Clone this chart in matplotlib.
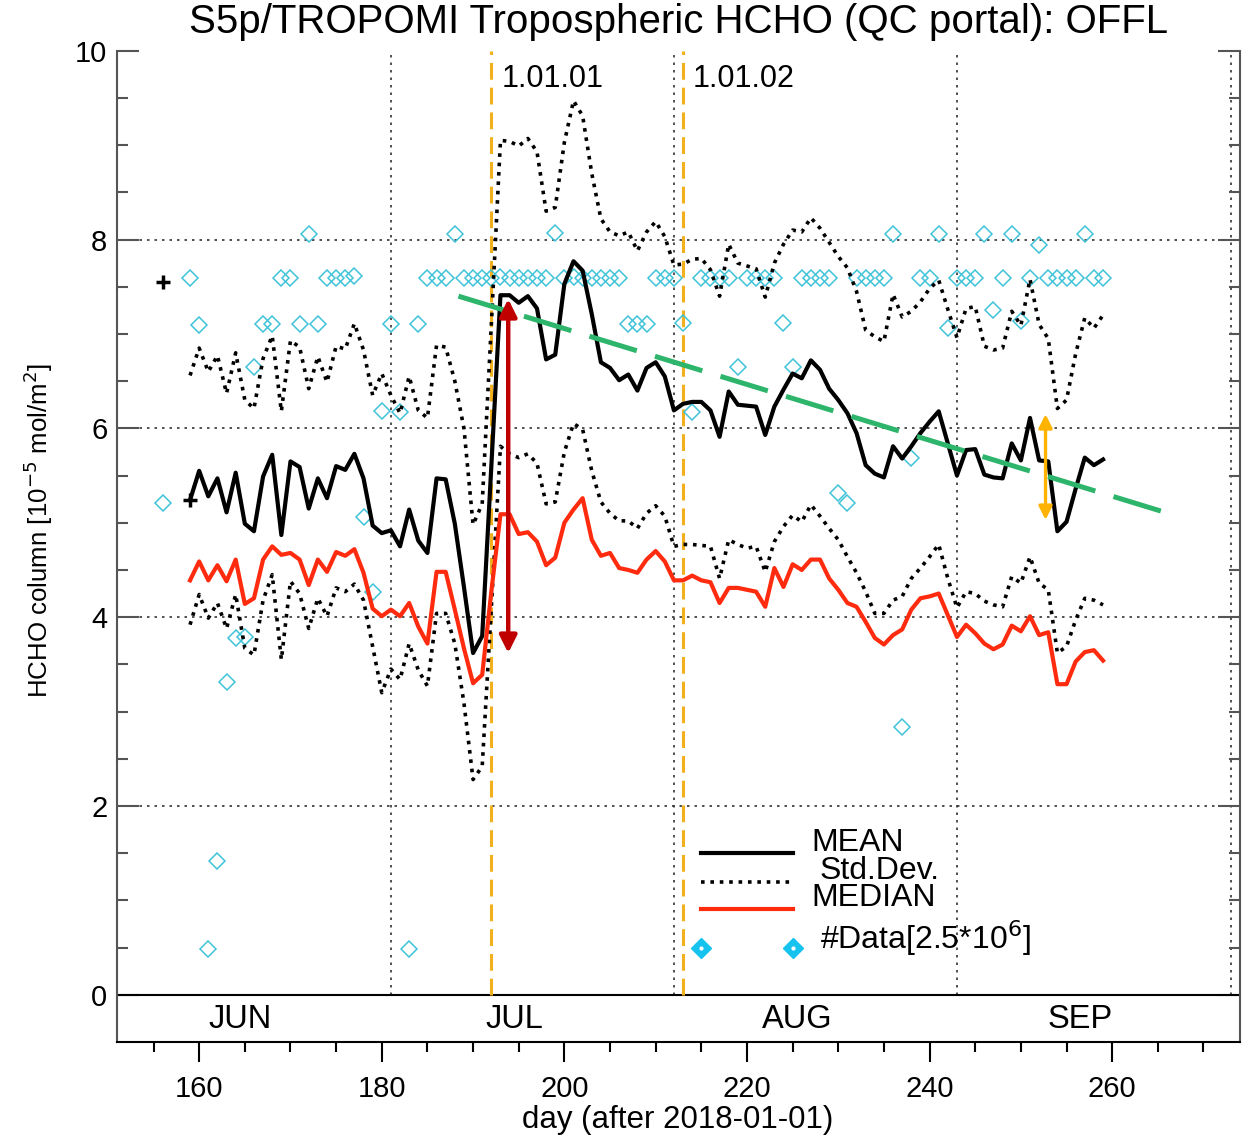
#!/usr/bin/env python3
"""
S5p/TROPOMI tropospheric HCHO time series (QC portal, OFFL)
daily mean / median / +-std.dev and number of data
"""

import numpy as np
import matplotlib.pyplot as plt
from matplotlib.ticker import FixedLocator

plt.rcParams['font.family'] = ['Liberation Sans', 'DejaVu Sans']

# ---- data ----
days = list(range(159, 260))

mean_vals = [
    5.24, 5.55, 5.28, 5.47, 5.11, 5.53, 4.99, 4.91, 5.49, 5.72,   # 159-168
    4.87, 5.65, 5.59, 5.15, 5.47, 5.26, 5.60, 5.56, 5.73, 5.47,   # 169-178
    4.97, 4.89, 4.92, 4.75, 5.14, 4.81, 4.68, 5.47, 5.46, 4.99,   # 179-188
    4.32, 3.62, 3.80, 5.60, 7.41, 7.41, 7.33, 7.40, 7.27, 6.73,   # 189-198
    6.78, 7.53, 7.77, 7.67, 7.21, 6.70, 6.64, 6.51, 6.57, 6.40,   # 199-208
    6.64, 6.70, 6.55, 6.19, 6.26, 6.28, 6.28, 6.19, 5.91, 6.39,   # 209-218
    6.25, 6.24, 6.23, 5.93, 6.23, 6.41, 6.58, 6.53, 6.72, 6.62,   # 219-228
    6.42, 6.30, 6.16, 5.95, 5.61, 5.52, 5.48, 5.81, 5.68, 5.81,   # 229-238
    5.95, 6.07, 6.18, 5.84, 5.50, 5.77, 5.78, 5.51, 5.48, 5.47,   # 239-248
    5.84, 5.66, 6.11, 5.66, 5.65, 4.91, 5.01, 5.36, 5.69, 5.61,   # 249-258
    5.67]                                                         # 259

median_vals = [
    4.39, 4.59, 4.39, 4.55, 4.38, 4.61, 4.14, 4.20, 4.61, 4.75,
    4.66, 4.68, 4.61, 4.34, 4.61, 4.48, 4.69, 4.65, 4.72, 4.47,
    4.09, 4.01, 4.08, 4.01, 4.15, 3.90, 3.72, 4.48, 4.48, 4.08,
    3.67, 3.30, 3.39, 4.27, 5.09, 5.09, 4.88, 4.90, 4.80, 4.55,
    4.63, 5.00, 5.14, 5.26, 4.82, 4.65, 4.68, 4.52, 4.50, 4.47,
    4.61, 4.70, 4.59, 4.39, 4.39, 4.44, 4.39, 4.37, 4.15, 4.31,
    4.31, 4.29, 4.27, 4.11, 4.52, 4.32, 4.56, 4.50, 4.61, 4.61,
    4.41, 4.29, 4.15, 4.11, 3.95, 3.78, 3.71, 3.81, 3.87, 4.08,
    4.20, 4.22, 4.25, 4.02, 3.79, 3.92, 3.83, 3.72, 3.66, 3.71,
    3.91, 3.85, 4.01, 3.81, 3.84, 3.29, 3.29, 3.53, 3.63, 3.65,
    3.54]

std_upper = [
    6.56, 6.85, 6.60, 6.77, 6.37, 6.80, 6.30, 6.21, 6.74, 6.98,
    6.18, 6.93, 6.86, 6.42, 6.76, 6.49, 6.87, 6.84, 7.11, 6.83,
    6.35, 6.58, 6.35, 6.16, 6.55, 6.19, 6.11, 6.88, 6.86, 6.50,
    6.00, 4.98, 5.20, 7.10, 9.05, 9.04, 8.99, 9.07, 8.93, 8.30,
    8.34, 9.03, 9.47, 9.31, 8.70, 8.22, 8.08, 8.04, 8.08, 7.88,
    8.08, 8.19, 8.03, 7.73, 7.74, 7.79, 7.80, 7.68, 7.40, 7.95,
    7.75, 7.72, 7.69, 7.39, 7.75, 7.95, 8.10, 8.08, 8.23, 8.12,
    7.97, 7.82, 7.70, 7.45, 7.04, 6.97, 6.92, 7.42, 7.18, 7.24,
    7.34, 7.48, 7.57, 7.26, 6.96, 7.27, 7.29, 6.87, 6.83, 6.85,
    7.24, 7.09, 7.58, 7.10, 6.95, 6.21, 6.30, 6.79, 7.17, 7.06,
    7.20]

std_lower = [
    3.92, 4.24, 3.99, 4.15, 3.88, 4.24, 3.67, 3.60, 4.18, 4.45,
    3.55, 4.38, 4.25, 3.88, 4.20, 4.01, 4.31, 4.27, 4.35, 4.18,
    3.69, 3.20, 3.45, 3.34, 3.72, 3.44, 3.27, 4.04, 4.04, 3.72,
    3.09, 2.28, 2.42, 4.10, 5.81, 5.73, 5.69, 5.73, 5.63, 5.20,
    5.22, 5.75, 6.05, 5.99, 5.55, 5.22, 5.10, 5.02, 5.02, 4.94,
    5.10, 5.18, 5.07, 4.75, 4.77, 4.77, 4.76, 4.75, 4.41, 4.82,
    4.77, 4.73, 4.75, 4.48, 4.80, 4.96, 5.08, 5.01, 5.19, 5.07,
    4.94, 4.82, 4.64, 4.47, 4.27, 4.04, 4.04, 4.18, 4.22, 4.41,
    4.52, 4.64, 4.77, 4.41, 4.10, 4.27, 4.25, 4.17, 4.13, 4.11,
    4.43, 4.36, 4.64, 4.36, 4.29, 3.62, 3.69, 3.97, 4.20, 4.18,
    4.13]

# number of data (scaled) shown as open diamonds
ndata_days = [
    156, 159, 160, 161, 162, 163, 164, 165, 166, 167, 168, 169, 170, 171,
    172, 173, 174, 175, 176, 177, 178, 179, 180, 181, 182, 183, 184, 185,
    186, 187, 188, 189, 190, 191, 192, 193, 194, 195, 196, 197, 198, 199,
    200, 201, 202, 203, 204, 205, 206, 207, 208, 209, 210, 211, 212, 213,
    214, 215, 216, 217, 218, 219, 220, 221, 222, 223, 224, 225, 226, 227,
    228, 229, 230, 231, 232, 233, 234, 235, 236, 237, 238, 239, 240, 241,
    242, 243, 244, 245, 246, 247, 248, 249, 250, 251, 252, 253, 254, 255,
    256, 257, 258, 259]
ndata_vals = [
    5.21, 7.59, 7.09, 0.48, 1.42, 3.31, 3.78, 3.79, 6.65, 7.11, 7.11, 7.59, 7.59, 7.11,
    8.06, 7.11, 7.59, 7.59, 7.59, 7.61, 5.06, 4.27, 6.18, 7.11, 6.17, 0.48, 7.11, 7.59,
    7.59, 7.59, 8.06, 7.59, 7.59, 7.59, 7.59, 7.60, 7.59, 7.59, 7.59, 7.59, 7.59, 8.07,
    7.59, 7.60, 7.59, 7.59, 7.59, 7.59, 7.59, 7.11, 7.11, 7.11, 7.59, 7.59, 7.59, 7.12,
    6.17, 7.59, 7.59, 7.59, 7.59, 6.65, 7.59, 7.59, 7.59, 7.59, 7.12, 6.65, 7.59, 7.59,
    7.59, 7.59, 5.31, 5.21, 7.59, 7.59, 7.59, 7.59, 8.06, 2.84, 5.69, 7.59, 7.59, 8.06,
    7.06, 7.59, 7.59, 7.59, 8.06, 7.25, 7.59, 8.06, 7.14, 7.59, 7.94, 7.59, 7.59, 7.59,
    7.59, 8.06, 7.59, 7.59]

plus_days = [156, 159]
plus_vals = [7.55, 5.24]

month_names = ['JUN', 'JUL', 'AUG', 'SEP']
month_starts = [151, 181, 212, 243]
month_bounds = [181, 212, 243, 273]

version_days = [192, 213]
version_labels = ['1.01.01', '1.01.02']

# hand-drawn annotations
trend_x = [188.4, 265.8]
trend_y = [7.40, 5.11]
red_arrow = (193.85, 7.37, 3.62)      # x, top, bottom
orange_arrow = (252.7, 6.15, 5.03)

# ---- figure ----
W, H = 1255, 1136
fig = plt.figure(figsize=(W / 100, H / 100), dpi=100)
ax = fig.add_axes([117 / W, (H - 1042) / H, (1240 - 117) / W, (1042 - 50.7) / H])
ax.set_xlim(151, 274)
ax.set_ylim(-0.5, 10)

# grid
ax.hlines([2, 4, 6, 8], 151, 274, colors='#333333', linestyles=(0, (1.5, 3)),
          lw=1.2, zorder=1)
ax.vlines(month_bounds, 0, 10, colors='#333333', linestyles=(0, (1.5, 3)),
          lw=1.2, zorder=1)
ax.axhline(0, color='black', lw=1.5, zorder=2)

# version changes
for d, lab in zip(version_days, version_labels):
    ax.plot([d, d], [0, 10], color='#f2b01e', lw=2.2, dashes=(5.5, 2.6), zorder=2)
    ax.text(d + 1.1, 9.7, lab, fontsize=22, va='center', ha='left')

# data counts
ax.plot(ndata_days, ndata_vals, ls='none', marker='D', ms=7.8, mfc='none',
        mec='#3fc3d8', mew=1.1, zorder=3)

# series
ax.plot(days, std_upper, color='black', lw=2.6, ls=(0, (1, 1.6)), zorder=4)
ax.plot(days, std_lower, color='black', lw=2.6, ls=(0, (1, 1.6)), zorder=4)
ax.plot(days, mean_vals, color='black', lw=3.0, zorder=5)
ax.plot(days, median_vals, color='#ff2b0e', lw=3.0, zorder=5)
ax.plot(plus_days, plus_vals, ls='none', marker='+', ms=10, mew=2.5,
        color='black', zorder=6)

# annotations
ax.plot(trend_x, trend_y, color='#2db56b', lw=3.6, dashes=(9.9, 3.8),
        solid_capstyle='butt', zorder=7)
ax.annotate('', xy=(red_arrow[0], red_arrow[2]), xytext=(red_arrow[0], red_arrow[1]),
            arrowprops=dict(arrowstyle='<|-|>', color='#c00000', lw=3.2,
                            mutation_scale=26, shrinkA=0, shrinkB=0), zorder=7)
ax.annotate('', xy=(orange_arrow[0], orange_arrow[2]),
            xytext=(orange_arrow[0], orange_arrow[1]),
            arrowprops=dict(arrowstyle='<|-|>', color='#ffb300', lw=2.4,
                            mutation_scale=20, shrinkA=0, shrinkB=0), zorder=7)

# legend drawn inside the axes
ax.plot([215, 225], [1.50, 1.50], color='black', lw=3.0)
ax.plot([215, 225], [1.20, 1.20], color='black', lw=2.6, ls=(0, (1, 1.6)))
ax.plot([215, 225], [0.91, 0.91], color='#ff2b0e', lw=3.0)
ax.plot([215, 225], [0.50, 0.50], ls='none', marker='D', ms=10.5, color='#16c3ef',
        mec='#16c3ef')
ax.plot([215, 225], [0.50, 0.50], ls='none', marker='o', ms=2, color='white')
ax.text(227.1, 1.61, 'MEAN', fontsize=23, va='center', ha='left')
ax.text(228.0, 1.31, 'Std.Dev.', fontsize=23, va='center', ha='left')
ax.text(227.1, 1.02, 'MEDIAN', fontsize=23, va='center', ha='left')
ax.text(228.0, 0.60, '#Data[2.5*10$^6$]', fontsize=23, va='center', ha='left')

# month labels in the bottom strip
for m, s in zip(month_names, month_starts):
    ax.text(s + 13.5, -0.26, m, fontsize=23.5, ha='center', va='center')

# axes / ticks
for side in ['left', 'right']:
    ax.spines[side].set_color('#555555')
    ax.spines[side].set_linewidth(1.5)
ax.spines['top'].set_visible(False)
ax.spines['bottom'].set_linewidth(1.5)

ax.yaxis.set_major_locator(FixedLocator([0, 2, 4, 6, 8, 10]))
ax.yaxis.set_minor_locator(FixedLocator(np.arange(0, 10.01, 0.5)))
ax.tick_params(axis='y', which='both', direction='in', left=True, right=True,
               color='#555555', width=1.5, labelsize=21, pad=7)
ax.tick_params(axis='y', which='major', length=16)
ax.tick_params(axis='y', which='minor', length=8)

ax.xaxis.set_major_locator(FixedLocator([160, 180, 200, 220, 240, 260]))
ax.xaxis.set_minor_locator(FixedLocator(np.arange(155, 271, 5)))
ax.tick_params(axis='x', which='both', direction='out', bottom=True, top=False,
               color='black', width=1.5, labelsize=21, pad=9)
ax.tick_params(axis='x', which='major', length=14.5)
ax.tick_params(axis='x', which='minor', length=7)

fig.text(678.5 / W, 1 - 22 / H, 'S5p/TROPOMI Tropospheric HCHO (QC portal): OFFL',
         fontsize=29, ha='center', va='center')
fig.text(38 / W, 1 - 530 / H, 'HCHO column [10$^{-5}$ mol/m$^2$]', fontsize=18.6,
         rotation=90, ha='center', va='center')
fig.text(678 / W, 1 - 1120 / H, 'day (after 2018-01-01)', fontsize=22.5,
         ha='center', va='center')

fig.savefig('out.png', dpi=100)
